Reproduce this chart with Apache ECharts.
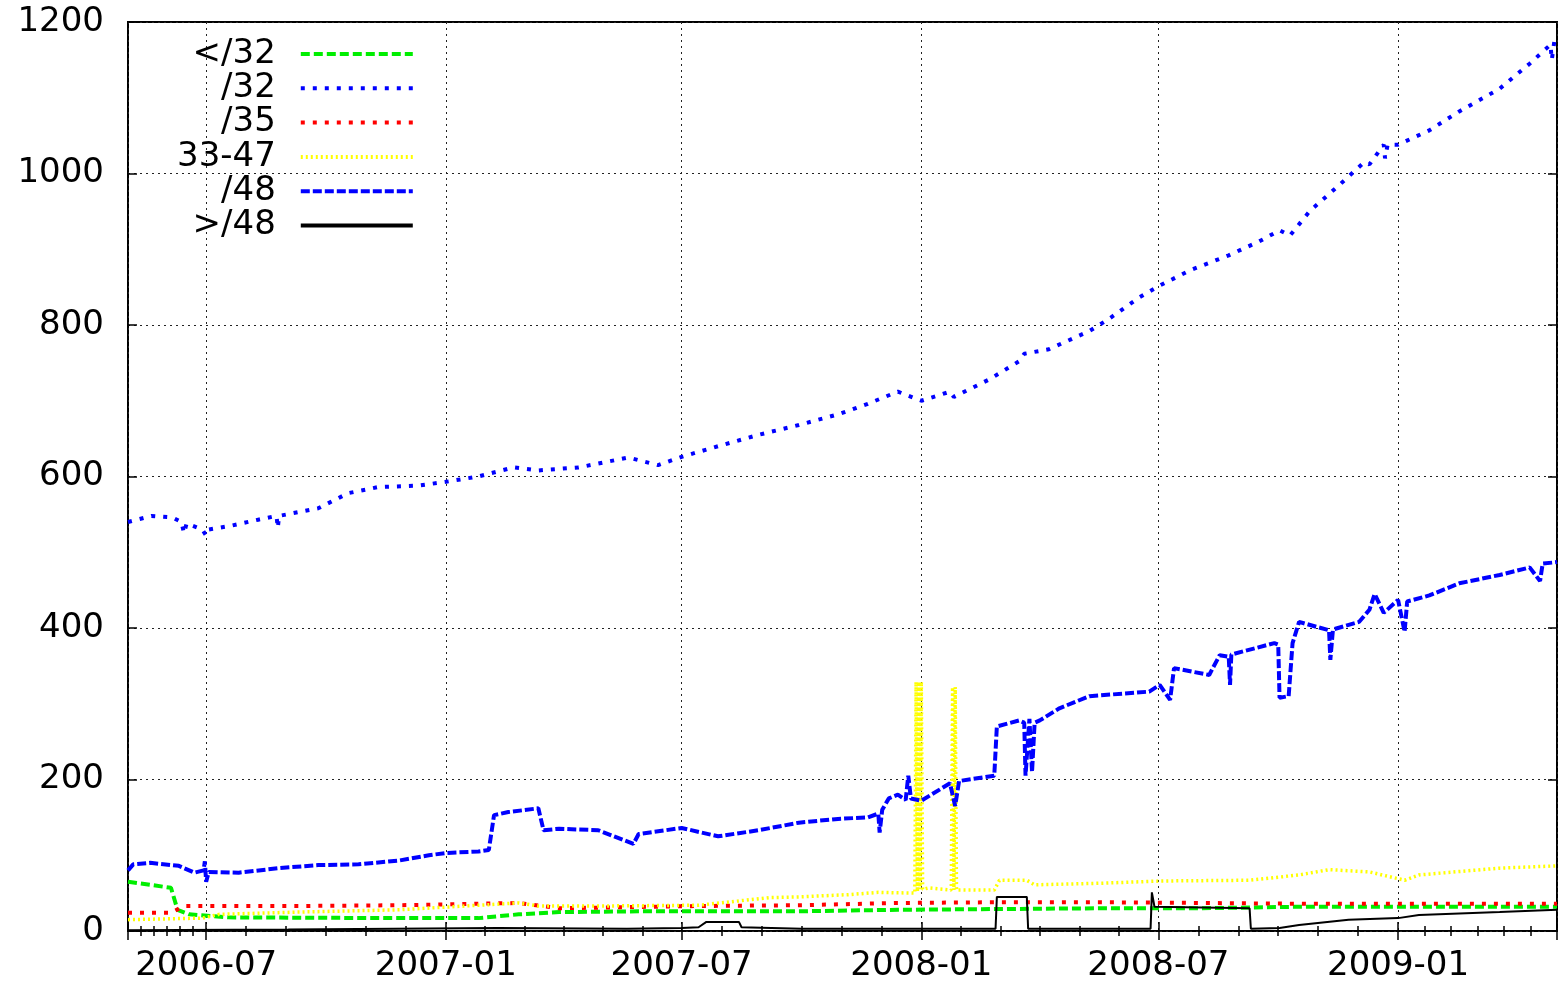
<!DOCTYPE html>
<html>
<head>
<meta charset="utf-8">
<script src="https://cdn.jsdelivr.net/npm/echarts@6/dist/echarts.min.js"></script>
<style>
  html, body { margin: 0; padding: 0; background: #fff; }
  #chart { width: 1558px; height: 986px; }
</style>
</head>
<body>
<div id="chart"></div>
<script>
// x range and tick labels
const xMin = '2006-05-02';
const xMax = '2009-05-03';
const xTickLabels = ['2006-07', '2007-01', '2007-07', '2008-01', '2008-07', '2009-01'];
const yTickLabels = [0, 200, 400, 600, 800, 1000, 1200];

// </32
const lt32Dates = ['2006-05-02', '2006-05-19', '2006-06-04', '2006-06-09', '2006-06-18', '2006-07-18', '2006-11-26',
  '2007-01-26', '2007-02-26', '2007-03-29', '2007-05-29', '2007-09-29', '2007-12-14', '2008-03-01', '2008-05-17',
  '2008-08-01', '2008-10-17', '2009-01-01', '2009-05-03'];
const lt32Values = [65, 61, 57, 28, 22, 18, 17, 17, 22, 25, 26, 26, 28, 29, 30, 30, 32, 32, 32];

// /32
const p32Dates = ['2006-05-02', '2006-05-20', '2006-06-05', '2006-06-12', '2006-06-14', '2006-06-16', '2006-06-28',
  '2006-07-01', '2006-07-03', '2006-07-20', '2006-08-10', '2006-08-24', '2006-08-25', '2006-08-26', '2006-09-25',
  '2006-10-18', '2006-11-10', '2006-12-11', '2007-01-01', '2007-01-26', '2007-02-22', '2007-03-13', '2007-04-13',
  '2007-05-21', '2007-06-13', '2007-07-01', '2007-07-29', '2007-08-29', '2007-09-29', '2007-10-29', '2007-11-21',
  '2007-12-14', '2008-01-01', '2008-01-23', '2008-01-26', '2008-02-22', '2008-03-16', '2008-03-20', '2008-04-08',
  '2008-05-09', '2008-05-24', '2008-06-16', '2008-07-02', '2008-07-25', '2008-08-24', '2008-09-16', '2008-10-02',
  '2008-10-10', '2008-10-25', '2008-11-17', '2008-12-06', '2008-12-10', '2008-12-21', '2008-12-22', '2008-12-24',
  '2009-01-01', '2009-01-25', '2009-02-17', '2009-03-20', '2009-04-12', '2009-04-28', '2009-04-29', '2009-05-01',
  '2009-05-03'];
const p32Values = [540, 548, 546, 540, 525, 538, 530, 522, 530, 535, 543, 548, 532, 548, 558, 578, 586, 588, 593,
  600, 612, 608, 612, 625, 615, 626, 640, 655, 668, 682, 696, 712, 700, 712, 705, 728, 752, 762, 768, 792, 808,
  836, 852, 872, 892, 910, 925, 918, 950, 985, 1015, 1012, 1038, 1020, 1038, 1038, 1057, 1082, 1112, 1145, 1170,
  1150, 1175, 1180];

// /35
const p35Dates = ['2006-05-02', '2006-06-04', '2006-06-14', '2006-09-10', '2006-11-26', '2007-02-26', '2007-03-29',
  '2007-07-14', '2007-09-29', '2007-12-14', '2008-03-01', '2008-05-17', '2008-08-01', '2008-10-17', '2009-01-01',
  '2009-05-03'];
const p35Values = [24, 24, 33, 33, 34, 37, 30, 33, 34, 37, 38, 38, 37, 36, 36, 36];

// 33-47
const midDates = ['2006-05-02', '2006-06-28', '2006-07-11', '2006-09-10', '2006-11-26', '2007-01-26', '2007-02-26',
  '2007-03-13', '2007-04-28', '2007-07-14', '2007-09-06', '2007-09-29', '2007-11-06', '2007-11-29', '2007-12-27',
  '2007-12-28', '2007-12-29', '2007-12-30', '2007-12-31', '2008-01-01', '2008-01-02', '2008-01-07', '2008-01-24',
  '2008-01-25', '2008-01-26', '2008-01-27', '2008-01-28', '2008-01-29', '2008-02-26', '2008-03-01', '2008-03-22',
  '2008-03-28', '2008-05-17', '2008-07-02', '2008-09-09', '2008-10-17', '2008-11-09', '2008-12-10', '2009-01-06',
  '2009-01-17', '2009-03-20', '2009-05-03'];
const midValues = [15, 17, 22, 25, 28, 34, 37, 33, 33, 34, 44, 45, 48, 51, 50, 329, 52, 329, 55, 329, 55, 57, 54,
  322, 54, 322, 54, 54, 54, 67, 67, 61, 63, 66, 67, 74, 81, 78, 67, 74, 83, 86];

// /48
const p48Dates = ['2006-05-02', '2006-05-06', '2006-05-19', '2006-06-10', '2006-06-22', '2006-06-29', '2006-06-30',
  '2006-07-01', '2006-07-03', '2006-07-26', '2006-08-26', '2006-09-25', '2006-10-26', '2006-11-26', '2006-12-19',
  '2007-01-01', '2007-01-26', '2007-02-03', '2007-02-07', '2007-02-18', '2007-03-13', '2007-03-17', '2007-03-29',
  '2007-04-28', '2007-05-25', '2007-05-29', '2007-07-01', '2007-07-29', '2007-08-29', '2007-09-29', '2007-10-29',
  '2007-11-21', '2007-11-29', '2007-11-30', '2007-12-02', '2007-12-07', '2007-12-14', '2007-12-20', '2007-12-22',
  '2007-12-24', '2008-01-01', '2008-01-23', '2008-01-27', '2008-01-30', '2008-02-22', '2008-02-26', '2008-02-28',
  '2008-03-16', '2008-03-20', '2008-03-21', '2008-03-24', '2008-03-26', '2008-03-28', '2008-04-01', '2008-04-16',
  '2008-05-09', '2008-06-24', '2008-07-02', '2008-07-10', '2008-07-13', '2008-08-09', '2008-08-17', '2008-08-24',
  '2008-08-25', '2008-08-26', '2008-09-28', '2008-10-01', '2008-10-02', '2008-10-09', '2008-10-12', '2008-10-17',
  '2008-11-09', '2008-11-10', '2008-11-12', '2008-12-02', '2008-12-10', '2008-12-14', '2008-12-21', '2009-01-01',
  '2009-01-06', '2009-01-08', '2009-01-25', '2009-02-17', '2009-03-20', '2009-04-12', '2009-04-20', '2009-04-22',
  '2009-05-03'];
const p48Values = [80, 88, 90, 86, 77, 80, 92, 65, 78, 77, 83, 87, 88, 93, 100, 103, 105, 107, 153, 157, 162, 133,
  135, 133, 115, 128, 136, 125, 133, 143, 148, 150, 155, 130, 160, 175, 180, 173, 205, 175, 172, 195, 165, 198,
  204, 205, 270, 278, 275, 205, 280, 210, 275, 278, 294, 310, 316, 325, 305, 347, 338, 364, 362, 325, 365, 380,
  378, 308, 310, 380, 408, 397, 358, 398, 408, 424, 445, 420, 437, 395, 435, 443, 459, 470, 480, 462, 485, 487];

// >/48
const gt48Dates = ['2006-05-02', '2006-09-02', '2006-09-03', '2007-02-10', '2007-05-20', '2007-07-01', '2007-07-14',
  '2007-07-20', '2007-08-14', '2007-08-16', '2007-10-01', '2008-02-27', '2008-02-28', '2008-03-22', '2008-03-23',
  '2008-06-25', '2008-06-26', '2008-06-28', '2008-09-09', '2008-09-10', '2008-10-02', '2008-10-17', '2008-11-24',
  '2009-01-01', '2009-01-17', '2009-03-20', '2009-05-03'];
const gt48Values = [1, 2, 4, 4, 3, 4, 5, 12, 12, 5, 3, 3, 45, 45, 3, 3, 51, 32, 30, 3, 4, 8, 15, 17, 21, 25, 28];

const FONT = 'DejaVu Sans';
const pair = (dates, values) => dates.map((d, i) => [d, values[i]]);
const toTime = s => { const p = s.split('-'); return new Date(+p[0], +p[1] - 1, +p[2]).getTime(); };
const DAY = 864e5;

const chart = echarts.init(document.getElementById('chart'), null, { renderer: 'canvas' });

const xBase = {
  type: 'time',
  min: toTime(xMin),
  max: toTime(xMax),
  minInterval: 180 * DAY,
  maxInterval: 186 * DAY,
  axisLine: { show: false },
  axisTick: { show: true, inside: true, length: 9, lineStyle: { color: '#000', width: 1.5 } },
  minorTick: { show: true, splitNumber: 6, length: 5, lineStyle: { color: '#000', width: 1.5 } }
};
const yBase = {
  type: 'value',
  min: 0,
  max: 1200,
  interval: 200,
  axisLine: { show: false },
  axisTick: { show: true, inside: true, length: 9, lineStyle: { color: '#000', width: 1.5 } }
};

const lineSeries = (name, data, color, width, dash) => ({
  name,
  type: 'line',
  data,
  showSymbol: false,
  symbol: 'none',
  animation: false,
  lineStyle: { color, width, type: dash, cap: 'butt' },
  itemStyle: { color }
});

const option = {
  animation: false,
  grid: { left: 128, right: 1, top: 22, bottom: 55, show: true, borderColor: '#000', borderWidth: 2 },
  legend: {
    orient: 'vertical',
    left: 172,
    top: 32,
    align: 'right',
    itemWidth: 112,
    itemHeight: 14,
    itemGap: 0.3,
    itemStyle: { opacity: 0 },
    lineStyle: { width: 4 },
    textStyle: { fontFamily: FONT, fontSize: 34, color: '#000', lineHeight: 34, padding: [0, 20, 0, 0] },
    data: ['</32', '/32', '/35', '33-47', '/48', '>/48']
  },
  xAxis: [
    Object.assign({}, xBase, {
      position: 'bottom',
      axisLabel: {
        fontFamily: FONT, fontSize: 34, color: '#000', margin: 18,
        formatter: v => {
          const d = new Date(v);
          const s = d.getFullYear() + '-' + String(d.getMonth() + 1).padStart(2, '0');
          return xTickLabels.indexOf(s) >= 0 ? s : '';
        }
      },
      splitLine: { show: true, lineStyle: { color: '#222', width: 1, type: [2, 4] } }
    }),
    Object.assign({}, xBase, {
      position: 'top',
      axisLabel: { show: false },
      splitLine: { show: false }
    })
  ],
  yAxis: [
    Object.assign({}, yBase, {
      position: 'left',
      axisLabel: {
        fontFamily: FONT, fontSize: 34, color: '#000', margin: 24,
        formatter: v => (yTickLabels.indexOf(v) >= 0 ? String(v) : '')
      },
      splitLine: { show: true, lineStyle: { color: '#222', width: 1, type: [2, 4] } }
    }),
    Object.assign({}, yBase, {
      position: 'right',
      axisLabel: { show: false },
      splitLine: { show: false }
    })
  ],
  series: [
    lineSeries('</32', pair(lt32Dates, lt32Values), '#00ee00', 4, [9, 4]),
    lineSeries('/32', pair(p32Dates, p32Values), '#0000ff', 4, [4, 8]),
    lineSeries('/35', pair(p35Dates, p35Values), '#ff0000', 4, [4, 8]),
    lineSeries('33-47', pair(midDates, midValues), '#ffff00', 3.5, [2, 3]),
    lineSeries('/48', pair(p48Dates, p48Values), '#0000ff', 4, [9, 3]),
    lineSeries('>/48', pair(gt48Dates, gt48Values), '#000000', 2, 'solid')
  ]
};

chart.setOption(option);
</script>
</body>
</html>
